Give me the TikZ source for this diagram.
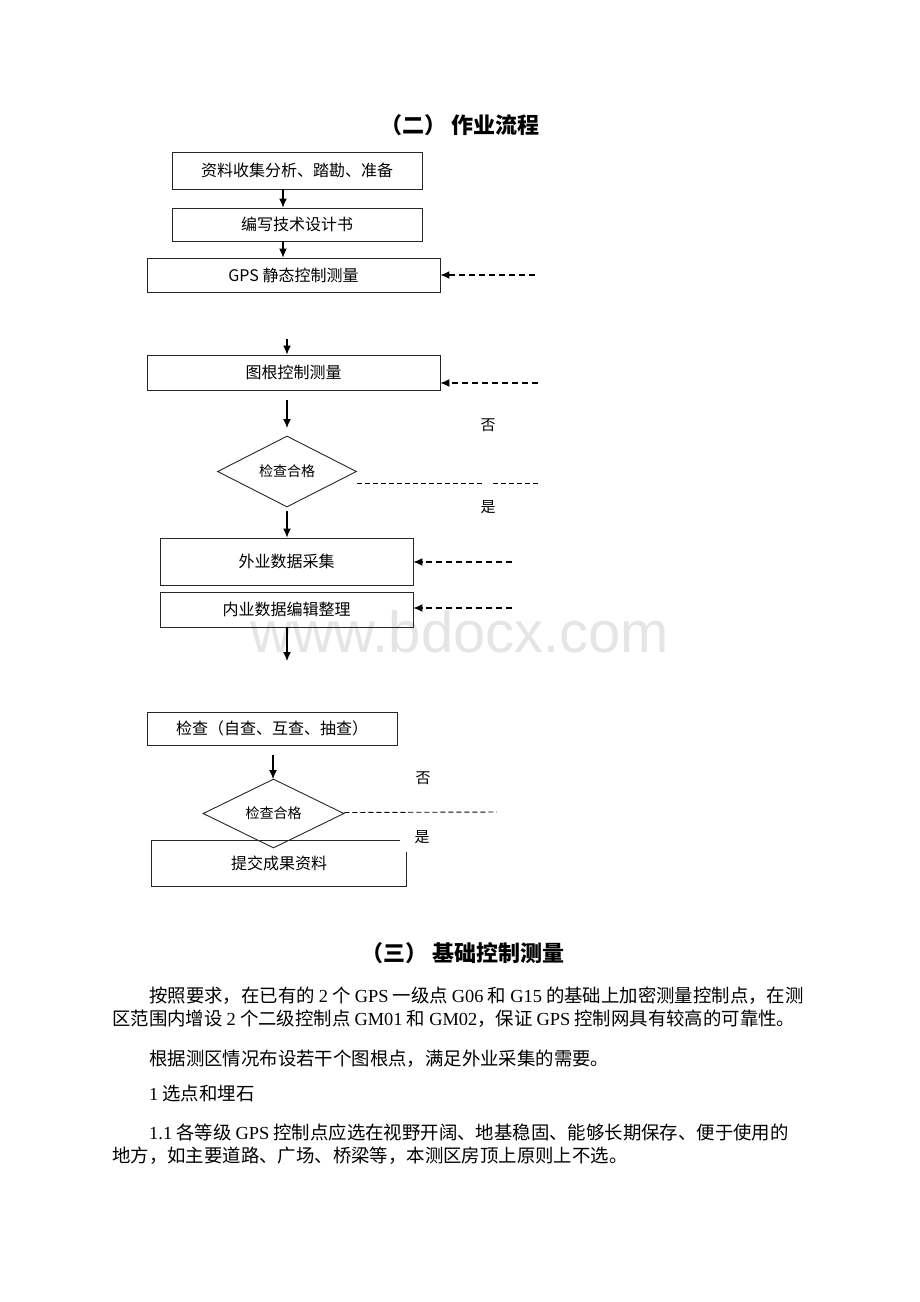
\documentclass[tikz,border=0pt]{standalone}
\usepackage{fontspec}
\setmainfont{Noto Sans CJK SC}
\newfontfamily\latf{Liberation Serif}
\newfontfamily\wmf{Liberation Sans}
\newcommand\lt[1]{{\latf #1}}
\usetikzlibrary{shapes.geometric,arrows.meta}
\tikzset{
  box/.style={draw=black!85, line width=0.9pt, inner sep=0pt, font=\fontsize{16pt}{19pt}\selectfont},
  dia/.style={draw=black!85, line width=0.9pt, shape=diamond, inner sep=0pt, font=\fontsize{14pt}{17pt}\selectfont},
  arr/.style={line width=1.2pt, -{Latex[length=9pt,width=8pt]}},
  darr/.style={line width=1.2pt, dash pattern=on 6pt off 4pt, -{Latex[length=9pt,width=8pt]}},
  dline/.style={line width=0.9pt, dash pattern=on 5pt off 3pt},
  lbl/.style={font=\fontsize{15pt}{18pt}\selectfont},
  ttl/.style={font=\fontsize{22pt}{26pt}\selectfont\bfseries},
  body/.style={anchor=base west, inner sep=0pt, font=\fontsize{18.4pt}{22pt}\selectfont}
}
\begin{document}
\begin{tikzpicture}[x=1pt,y=-1pt]
\useasboundingbox[fill=white] (0,0) rectangle (920,1302);
% watermark
\node[anchor=base west, inner sep=0pt, text=black!10, font=\fontsize{58pt}{60pt}\wmf] (wm) at (250,652) {www.bdocx.com};

\node[ttl] (t1) at (460,125) {（二） 作业流程};

\node[box, minimum width=250, minimum height=37] (b1) at (297,170.5) {资料收集分析、踏勘、准备};
\node[box, minimum width=250, minimum height=33] (b2) at (297,224.5) {编写技术设计书};
\node[box, minimum width=293, minimum height=34] (b3) at (293.5,275) {GPS 静态控制测量};
\node[box, minimum width=293, minimum height=35] (b4) at (293.5,372.5) {图根控制测量};
\node[dia, minimum width=139, minimum height=71] (d1) at (287,471.5) {检查合格};
\node[box, minimum width=253, minimum height=47] (b5) at (286.5,561.5) {外业数据采集};
\node[box, minimum width=253, minimum height=35] (b6) at (286.5,609.5) {内业数据编辑整理};
\node[box, minimum width=250, minimum height=33] (b7) at (272,728.5) {检查（自查、互查、抽查）};
\node[dia, minimum width=141, minimum height=67] (d2) at (273.5,813.5) {检查合格};
\node[box, draw=none, minimum width=254, minimum height=45] (b8) at (279,863.5) {提交成果资料};
\draw[black!85, line width=0.9pt] ([xshift=-6pt]b8.north east) -- (b8.north west) -- (b8.south west) -- (b8.south east) -- ([yshift=-11pt]b8.north east);

% solid arrows
\draw[arr] ([xshift=-14pt]b1.south) -- ([xshift=-14pt]b2.north);
\draw[arr] ([xshift=-14pt]b2.south) -- ([xshift=-10.5pt]b3.north);
\coordinate (s3) at (287,339);
\draw[arr] (s3) -- ([xshift=-6.5pt]b4.north);
\coordinate (s4) at (287,400);
\coordinate (e4) at (287,428);
\draw[arr] (s4) -- (e4);
\coordinate (s5) at (287,511);
\draw[arr] (s5) -- ([xshift=0.5pt]b5.north);
\coordinate (e6) at (287,661);
\draw[arr] ([xshift=0.5pt]b6.south) -- (e6);
\coordinate (s7) at (273,755);
\coordinate (e7) at (273,779);
\draw[arr] (s7) -- (e7);

% dashed feedback arrows
\coordinate (f3) at (535,275);
\draw[darr] (f3) -- (b3.east |- f3);
\coordinate (f4) at (538,383);
\draw[darr] (f4) -- (b4.east |- f4);
\coordinate (f5) at (512,562);
\draw[darr] (f5) -- (b5.east |- f5);
\coordinate (f6) at (512,608);
\draw[darr] (f6) -- (b6.east |- f6);

% decision lines
\coordinate (g1a) at (357,483);
\coordinate (g1b) at (483,483);
\coordinate (g1c) at (493,483);
\coordinate (g1d) at (538,483);
\draw[dline] (g1a) -- (g1b);
\draw[dline] (g1c) -- (g1d);
\node[lbl] (no1) at (488,425) {否};
\node[lbl] (yes1) at (488,507) {是};
\coordinate (g2b) at (497,812);
\draw[dline] (d2.east) ++(0,-1) -- (g2b);
\node[lbl] (no2) at (423,778) {否};
\node[lbl] (yes2) at (422,837) {是};

% section text
\node[ttl] (t2) at (463,953) {（三） 基础控制测量};
\node[body] (p1) at (149,1002) {按照要求，在已有的 \lt{2} 个 \lt{GPS} 一级点 \lt{G06} 和 \lt{G15} 的基础上加密测量控制点，在测};
\node[body] (p2) at (112,1025) {区范围内增设 \lt{2} 个二级控制点 \lt{GM01} 和 \lt{GM02}，保证 \lt{GPS} 控制网具有较高的可靠性。};
\node[body] (p3) at (149,1065) {根据测区情况布设若干个图根点，满足外业采集的需要。};
\node[body] (p4) at (149,1100) {\lt{1} 选点和埋石};
\node[body] (p5) at (149,1139) {\lt{1.1} 各等级 \lt{GPS} 控制点应选在视野开阔、地基稳固、能够长期保存、便于使用的};
\node[body] (p6) at (112,1162) {地方，如主要道路、广场、桥梁等，本测区房顶上原则上不选。};
\end{tikzpicture}
\end{document}
